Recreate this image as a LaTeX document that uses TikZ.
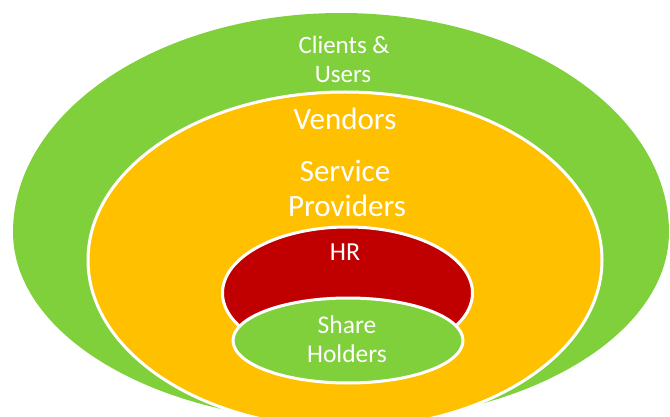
\documentclass[tikz,border=0pt]{standalone}
\usepackage{fontspec}
\setmainfont{Carlito}
\definecolor{lgreen}{HTML}{80D03C}
\definecolor{gold}{HTML}{FFC000}
\definecolor{dred}{HTML}{C00000}
\begin{document}
\begin{tikzpicture}[x=1pt,y=-1pt,
  ring/.style={draw=white,line width=3pt},
  lbl/.style={text=white,inner sep=0pt,anchor=base}]
\useasboundingbox (0,0) rectangle (670,417);
\clip (0,0) rectangle (670,417);
% outer green (clients & users)
\fill[lgreen] (13,232) arc[start angle=180,end angle=360,x radius=328,y radius=219]
  arc[start angle=0,end angle=180,x radius=328,y radius=190] -- cycle;
% orange (vendors, service providers)
\filldraw[fill=gold,ring] (345,260) ellipse [x radius=257,y radius=168];
% red (HR)
\filldraw[fill=dred,ring] (347.5,293) ellipse [x radius=125,y radius=66];
% inner green (share holders)
\filldraw[fill=lgreen,ring] (348,340.5) ellipse [x radius=115,y radius=42.5];
% labels
\node[lbl,font=\fontsize{25}{30}\selectfont] (cl1) at (344,54) {Clients \&};
\node[lbl,font=\fontsize{25}{30}\selectfont] (cl2) at (343,83) {Users};
\node[lbl,font=\fontsize{31}{37}\selectfont] (ven) at (345,130) {Vendors};
\node[lbl,font=\fontsize{31}{37}\selectfont] (sp1) at (345,182) {Service};
\node[lbl,font=\fontsize{31}{37}\selectfont] (sp2) at (347,217) {Providers};
\node[lbl,font=\fontsize{26}{31}\selectfont] (hr) at (345,260) {HR};
\node[lbl,font=\fontsize{25.5}{30}\selectfont] (sh1) at (347,333) {Share};
\node[lbl,font=\fontsize{25.5}{30}\selectfont] (sh2) at (347,362) {Holders};
\end{tikzpicture}
\end{document}
